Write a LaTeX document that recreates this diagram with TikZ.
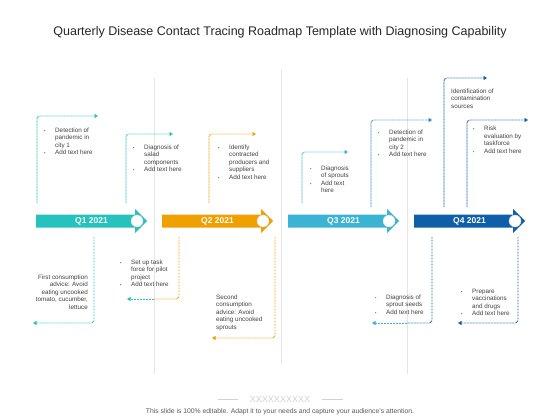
\documentclass[tikz,border=0pt]{standalone}
\usepackage{fontspec}
\setmainfont{Liberation Sans}
\usetikzlibrary{arrows.meta}
\definecolor{qone}{HTML}{26C2BE}
\definecolor{qtwo}{HTML}{F0A000}
\definecolor{qthree}{HTML}{3BB4D4}
\definecolor{qfour}{HTML}{0F5FA8}
\definecolor{qmid}{HTML}{2A8CCB}
\definecolor{txt}{HTML}{404040}
\newcommand{\bul}{\makebox[11pt][l]{\fontsize{4}{4}\selectfont\textbullet}}

\begin{document}
\begin{tikzpicture}[x=1pt,y=-1pt,
  txtbox/.style={inner sep=0pt, text=txt, font=\fontsize{6.3}{7.5}\selectfont, anchor=base west},
  linkpart/.style={dash pattern=on 0.8pt off 0.7pt, line width=0.9pt, rounded corners=3pt},
  link/.style={linkpart, -{Triangle[length=3.5pt,width=4pt]}},
  qlabel/.style={inner sep=0pt, text=white, font=\fontsize{8.5}{10}\selectfont\bfseries},
  knob/.style={fill=white, draw=black!15, line width=0.4pt},
  sep/.style={draw=black!10, line width=0.6pt}]

\useasboundingbox (0,0) rectangle (560,420);

% title:
\node[text=black!85, font=\fontsize{12.5}{14}\selectfont] (title) at (280,32)
  {Quarterly Disease Contact Tracing Roadmap Template with Diagnosing Capability};

% separators:
\draw[sep] (154,78) -- (154,374);
\draw[sep] (281,70) -- (281,364);
\draw[sep] (407,78) -- (407,374);


% Q1:
\fill[qone] (36,214.5) -| (135,209) -- (147,221) -- (135,233) |- (36,227.5) -- cycle;
\draw[knob] (137,221) circle (6);
\node[qlabel] (q1) at (91.5,221) {Q1 2021};

% Q2:
\fill[qtwo] (162,214.5) -| (261,209) -- (273,221) -- (261,233) |- (162,227.5) -- cycle;
\draw[knob] (263,221) circle (6);
\node[qlabel] (q2) at (217.5,221) {Q2 2021};

% Q3:
\fill[qthree] (288,214.5) -| (387,209) -- (399,221) -- (387,233) |- (288,227.5) -- cycle;
\draw[knob] (389,221) circle (6);
\node[qlabel] (q3) at (343.5,221) {Q3 2021};

% Q4:
\fill[qfour] (414,214.5) -| (513,209) -- (525,221) -- (513,233) |- (414,227.5) -- cycle;
\draw[knob] (515,221) circle (6);
\node[qlabel] (q4) at (469.5,221) {Q4 2021};


% upper links:
\coordinate (u1a) at (37,203);   \coordinate (u1b) at (98,116);
\coordinate (u2a) at (126,203);  \coordinate (u2b) at (173,134);
\coordinate (u3a) at (209,203);  \coordinate (u3b) at (256,134);
\coordinate (u4a) at (302,203);  \coordinate (u4b) at (348,152);
\coordinate (u5a) at (371,207);  \coordinate (u5b) at (432,120);
\coordinate (u6a) at (444,207);  \coordinate (u6b) at (487,78);
\coordinate (u7a) at (467,207);  \coordinate (u7b) at (528,120);

\draw[link, qone] (u1a) |- (u1b);
\draw[link, qone] (u2a) |- (u2b);
\draw[link, qtwo] (u3a) |- (u3b);
\draw[link, qthree] (u4a) |- (u4b);
\draw[link, qmid] (u5a) |- (u5b);
\draw[link, qfour] (u6a) |- (u6b);
\draw[link, qfour] (u7a) |- (u7b);

% lower links:
\coordinate (d1a) at (94,237);   \coordinate (d1b) at (33,323);
\coordinate (d2a) at (179,237);  \coordinate (d2m) at (154,299);  \coordinate (d2b) at (127,299);
\coordinate (d3a) at (275,237);  \coordinate (d3b) at (212,338);
\coordinate (d4a) at (432,237);  \coordinate (d4m) at (407,323);  \coordinate (d4b) at (372,323);
\coordinate (d5a) at (518,237);  \coordinate (d5b) at (458,323);

\draw[link, qone] (d1a) |- (d1b);
\draw[linkpart, qtwo] (d2a) |- (d2m);
\draw[link, qone] (d2m) -- (d2b);
\draw[link, qtwo] (d3a) |- (d3b);
\draw[linkpart, qfour] (d4a) |- (d4m);
\draw[link, qthree] (d4m) -- (d4b);
\draw[link, qfour] (d5a) |- (d5b);


% upper texts:
\node[txtbox] (t1) at (44,132) {\begin{tabular}[t]{@{}l@{}l@{}}
  \bul & Detection of\\ & pandemic in\\ & city 1\\ \bul & Add text here\end{tabular}};
\node[txtbox] (t2) at (133,149) {\begin{tabular}[t]{@{}l@{}l@{}}
  \bul & Diagnosis of\\ & salad\\ & components\\ \bul & Add text here\end{tabular}};
\node[txtbox] (t3) at (218,149) {\begin{tabular}[t]{@{}l@{}l@{}}
  \bul & Identify\\ & contracted\\ & producers and\\ & suppliers\\ \bul & Add text here\end{tabular}};
\node[txtbox] (t4) at (310,170) {\begin{tabular}[t]{@{}l@{}l@{}}
  \bul & Diagnosis\\ & of sprouts\\ \bul & Add text\\ & here\end{tabular}};
\node[txtbox] (t5) at (378,134) {\begin{tabular}[t]{@{}l@{}l@{}}
  \bul & Detection of\\ & pandemic in\\ & city 2\\ \bul & Add text here\end{tabular}};
\node[txtbox] (t6) at (451,93) {\begin{tabular}[t]{@{}l@{}}
  Identification of\\ contamination\\ sources\end{tabular}};
\node[txtbox] (t7) at (473,131) {\begin{tabular}[t]{@{}l@{}l@{}}
  \bul & Risk\\ & evaluation by\\ & taskforce\\ \bul & Add text here\end{tabular}};

% lower texts:
\node[txtbox, anchor=base east] (b1) at (88,279) {\begin{tabular}[t]{@{}r@{}}
  First consumption\\ advice: Avoid\\ eating uncooked\\ tomato, cucumber,\\ lettuce\end{tabular}};
\node[txtbox] (b2) at (120,264) {\begin{tabular}[t]{@{}l@{}l@{}}
  \bul & Set up task\\ & force for pilot\\ & project\\ \bul & Add text here\end{tabular}};
\node[txtbox] (b3) at (216,299) {\begin{tabular}[t]{@{}l@{}}
  Second\\ consumption\\ advice: Avoid\\ eating uncooked\\ sprouts\end{tabular}};
\node[txtbox] (b4) at (375,299) {\begin{tabular}[t]{@{}l@{}l@{}}
  \bul & Diagnosis of\\ & sprout seeds\\ \bul & Add text here\end{tabular}};
\node[txtbox] (b5) at (461,293) {\begin{tabular}[t]{@{}l@{}l@{}}
  \bul & Prepare\\ & vaccinations\\ & and drugs\\ \bul & Add text here\end{tabular}};


% footer:
\node[text=black!18, font=\fontsize{9}{10}\selectfont] (xx) at (280,399) {XXXXXXXXXX};
\draw[black!18, line width=0.5pt] (218,399) -- (238,399);
\draw[black!18, line width=0.5pt] (322,399) -- (343,399);
\node[text=black!65, font=\fontsize{6.8}{8}\selectfont] (note) at (280,412)
  {This slide is 100\% editable. Adapt it to your needs and capture your audience's attention.};

\end{tikzpicture}
\end{document}
